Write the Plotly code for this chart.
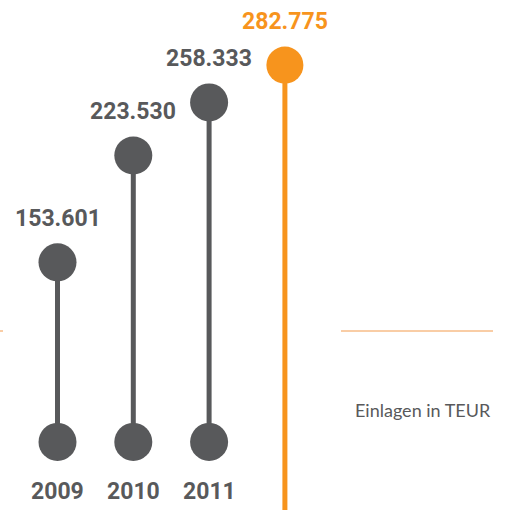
import plotly.graph_objects as go

years = ["2009", "2010", "2011", "2012"]
values = [153.601, 223.530, 258.333, 282.775]
value_labels = ["153.601", "223.530", "258.333", "282.775"]
unit_label = "Einlagen in TEUR"

GRAY = "#58595b"
ORANGE = "#f7941d"
BASE = 36.0
FLOOR = -40.0

fig = go.Figure()

for i, (yr, v) in enumerate(zip(years, values)):
    highlight = i == len(values) - 1
    col = ORANGE if highlight else GRAY
    if highlight:
        fig.add_trace(go.Scatter(x=[i, i], y=[v, FLOOR], mode="lines",
                                 line=dict(color=col, width=5), hoverinfo="skip", showlegend=False))
        fig.add_trace(go.Scatter(x=[i], y=[v], mode="markers",
                                 marker=dict(color=col, size=37), hoverinfo="skip", showlegend=False))
    else:
        fig.add_trace(go.Scatter(x=[i, i], y=[BASE, v], mode="lines+markers",
                                 line=dict(color=col, width=5),
                                 marker=dict(color=col, size=38), hoverinfo="skip", showlegend=False))
        fig.add_annotation(x=i, y=BASE, text=yr, showarrow=False, yshift=-50,
                           yanchor="middle", xanchor="center",
                           font=dict(family="Roboto", size=23, color=GRAY, weight="bold"))
    fig.add_annotation(x=i, y=v, text=value_labels[i], showarrow=False, yshift=44,
                       yanchor="middle", xanchor="center",
                       font=dict(family="Roboto", size=23, color=col, weight="bold"))

fig.add_annotation(xref="paper", yref="paper", x=493/507, y=1-410/510, text=unit_label,
                   showarrow=False, xanchor="right", yanchor="middle",
                   font=dict(family="Lato", size=18, color=GRAY))

fig.add_shape(type="line", xref="paper", yref="paper", x0=341/507, x1=493/507,
              y0=1-331/510, y1=1-331/510, line=dict(color="#f39b4c", width=1))
fig.add_shape(type="line", xref="paper", yref="paper", x0=0, x1=3/507,
              y0=1-331/510, y1=1-331/510, line=dict(color="#f39b4c", width=1))

fig.update_xaxes(range=[-0.7586, 5.930], visible=False, fixedrange=True)
fig.update_yaxes(range=[-8.58, 325.4], visible=False, fixedrange=True)
fig.update_layout(width=507, height=510, margin=dict(l=0, r=0, t=0, b=0),
                  plot_bgcolor="white", paper_bgcolor="white", hovermode=False)

fig.write_html("out.html", config={"displayModeBar": False},
               post_script="document.body.style.margin='0';")
